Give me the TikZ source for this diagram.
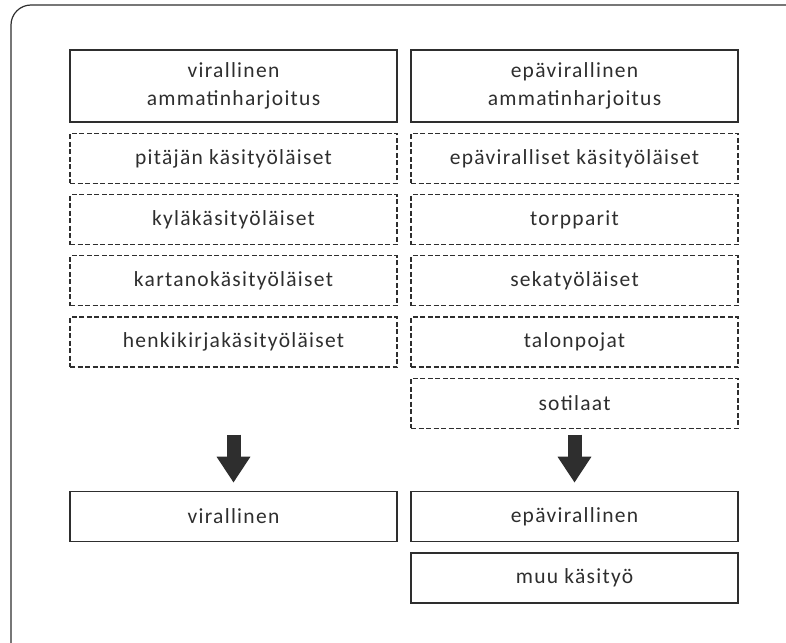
\documentclass[tikz,border=0pt]{standalone}
\usepackage{fontspec}
\setmainfont{Carlito}[LetterSpace=6]
\usetikzlibrary{positioning,arrows.meta,calc}
\definecolor{ink}{HTML}{2E2E2E}
\begin{document}
\begin{tikzpicture}[x=1pt, y=1pt, node distance=10pt,
    font=\fontsize{21.5}{28}\selectfont, text=ink,
    box/.style={draw=ink, line width=1.6pt, minimum width=327pt, minimum height=50pt, inner sep=0pt, align=center},
    dbox/.style={box, line width=1.2pt, dash pattern=on 5pt off 2.5pt},
    bigarrow/.style={ink, line width=14pt, -{Triangle[width=32pt,length=26pt]}}]
            \useasboundingbox (0,0) rectangle (786,-642);
            \clip (0,0) rectangle (786,-642);
            \draw[ink, line width=1.2pt, rounded corners=20pt] (11,-5) rectangle (806,-662);
            % ylempi rivi
            \node(vam) [box, minimum height=72pt] at (233.5,-86) {virallinen\\ammatinharjoitus};
            \node(eam) [box, minimum height=72pt] at (574.5,-86) {epävirallinen\\ammatinharjoitus};
            \node(pit) [dbox, below=of vam] {pitäjän käsityöläiset};
            \node(kyl) [dbox, below=of pit] {kyläkäsityöläiset};
            \node(kar) [dbox, below=of kyl] {kartanokäsityöläiset};
            \node(hen) [dbox, below=of kar] {henkikirjakäsityöläiset};
            \node(epk) [dbox, below=of eam] {epäviralliset käsityöläiset};
            \node(tor) [dbox, below=of epk] {torpparit};
            \node(sek) [dbox, below=of tor] {sekatyöläiset};
            \node(tal) [dbox, below=of sek] {talonpojat};
            \node(sot) [dbox, below=of tal] {sotilaat};
            % alempi rivi
            \node(vir) [box] at (233.5,-516.5) {virallinen};
            \node(epv) [box] at (574.5,-516.5) {epävirallinen};
            \node(muu) [box, below=of epv] {muu käsityö};
            \coordinate(va) at ($(vir.north)+(0,56)$);
            \coordinate(ea) at ($(epv.north)+(0,56)$);
            \draw[bigarrow](va) -- ($(vir.north)+(0,8)$);
            \draw[bigarrow](ea) -- ($(epv.north)+(0,8)$);
            \end{tikzpicture}
\end{document}
